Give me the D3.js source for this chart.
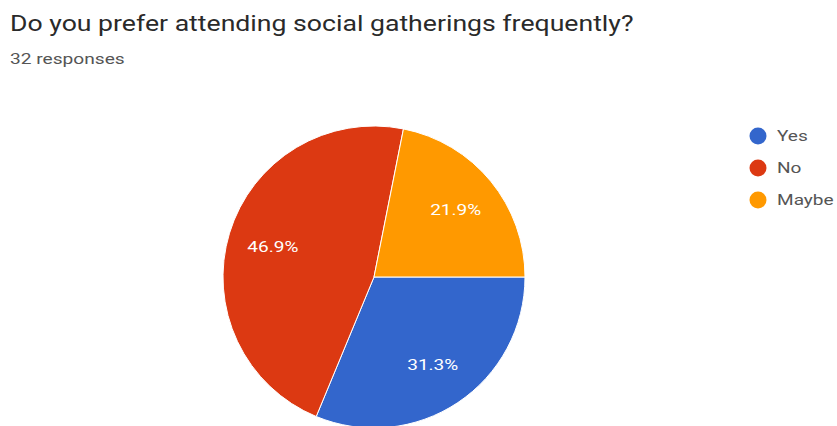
<!DOCTYPE html>
<html>
<head>
<meta charset="utf-8">
<script src="https://cdn.jsdelivr.net/npm/d3@7"></script>
<style>
  body { margin: 0; background: #fff; }
  svg { display: block; font-family: Roboto, "Noto Sans", sans-serif; }
</style>
</head>
<body>
<div id="chart"></div>
<script>
const width = 837,
  height = 426,
  widen = 1.27; // the screenshot's text runs wider than plain Roboto

const categories = ["Yes", "No", "Maybe"];
const counts = [10, 15, 7];
const colors = ["#3366cc", "#dc3912", "#ff9900"];
const title = "Do you prefer attending social gatherings frequently?";
const subtitle = "32 responses";

const total = d3.sum(counts);
const data = categories.map((c, i) => ({ name: c, value: counts[i], color: colors[i] }));

function stretch(sel, k) {
  sel.each(function() {
    const w = this.getComputedTextLength();
    d3.select(this)
      .attr("textLength", w * k)
      .attr("lengthAdjust", "spacingAndGlyphs");
  });
}

const svg = d3
  .select("#chart")
  .append("svg")
  .attr("width", width)
  .attr("height", height);

svg
  .append("text")
  .attr("x", 10)
  .attr("y", 31)
  .attr("fill", "#2a2a2a")
  .style("font-size", "22px")
  .text(title)
  .call(stretch, 1.21);

svg
  .append("text")
  .attr("x", 10)
  .attr("y", 64)
  .attr("fill", "#555")
  .style("font-size", "14.5px")
  .text(subtitle)
  .call(stretch, 1.32);

const cx = 374,
  cy = 277,
  radius = 151;

// starts at 3 o'clock, clockwise
const pie = d3
  .pie()
  .value(d => d.value)
  .sort(null)
  .startAngle(Math.PI / 2)
  .endAngle(Math.PI / 2 + 2 * Math.PI);

const arc = d3.arc().innerRadius(0).outerRadius(radius);
const labelArc = d3.arc().innerRadius(radius * 0.7).outerRadius(radius * 0.7);

const g = svg.append("g").attr("transform", "translate(" + cx + "," + cy + ")");

const slices = pie(data);

g.selectAll("path")
  .data(slices)
  .join("path")
  .attr("d", arc)
  .attr("fill", d => d.data.color)
  .attr("stroke", "#fff")
  .attr("stroke-width", 1);

g.selectAll("text")
  .data(slices)
  .join("text")
  .attr("transform", d => "translate(" + labelArc.centroid(d) + ")")
  .attr("text-anchor", "middle")
  .attr("dy", "0.35em")
  .attr("fill", "#fff")
  .style("font-size", "15px")
  .text(d => ((d.data.value / total) * 100).toFixed(1) + "%")
  .call(stretch, widen);

const legend = svg
  .append("g")
  .selectAll("g")
  .data(data)
  .join("g")
  .attr("transform", (d, i) => "translate(758," + (136 + i * 32) + ")");

legend
  .append("circle")
  .attr("r", 8.5)
  .attr("fill", d => d.color);

legend
  .append("text")
  .attr("x", 19)
  .attr("dy", "0.35em")
  .attr("fill", "#555")
  .style("font-size", "15px")
  .text(d => d.name)
  .call(stretch, widen);
</script>
</body>
</html>
